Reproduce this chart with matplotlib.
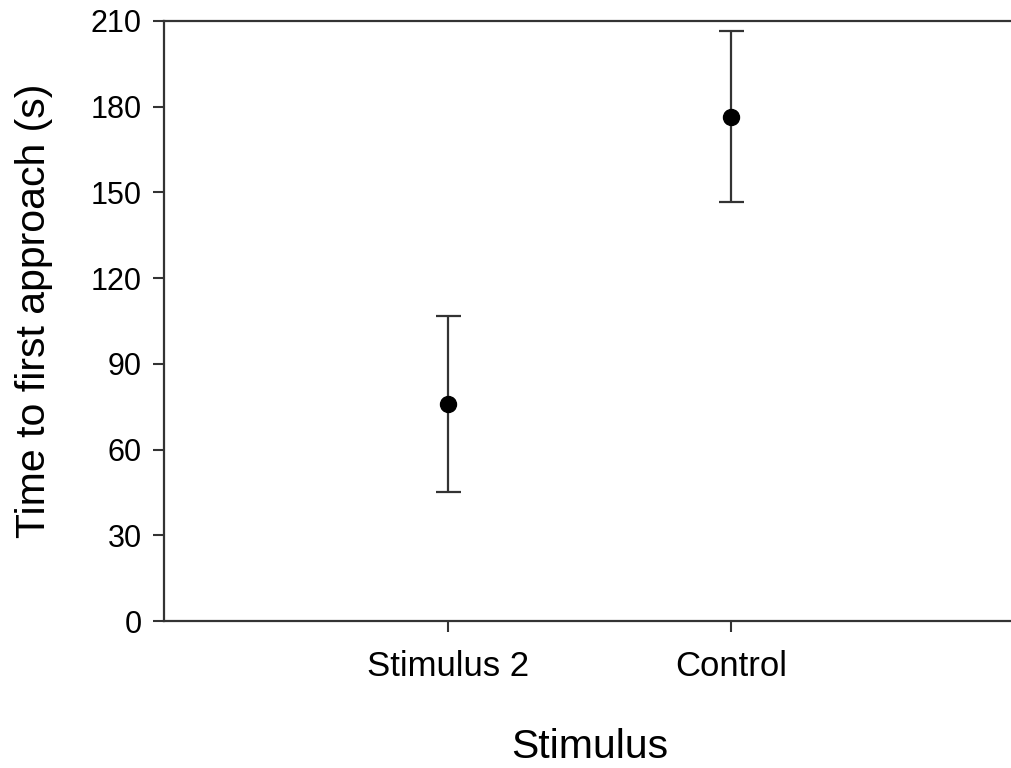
import numpy as np
import matplotlib.pyplot as plt

plt.rcParams['font.family'] = ['Liberation Sans', 'DejaVu Sans']

# Dados
grupos = ['Stimulus 2', 'Control']
media = np.array([76.0, 176.5])
erro = np.array([30.8, 30.0])

fig = plt.figure(figsize=(10.11, 7.68), dpi=100)
ax = fig.add_axes([0.1622, 0.1914, 0.8417, 0.7813])

x = np.arange(1, len(grupos) + 1)
ax.errorbar(x, media, yerr=erro, fmt='o', color='black', ecolor='#333333',
            elinewidth=1.6, capsize=9, capthick=1.6, markersize=11.5)

ax.set_xlim(0, 3)
ax.set_ylim(0, 210)
ax.set_yticks(np.arange(0, 211, 30))
ax.set_xticks(x)
ax.set_xticklabels(grupos)

for s in ['left', 'bottom', 'top']:
    ax.spines[s].set_linewidth(1.6)
    ax.spines[s].set_color('#333333')
ax.spines['right'].set_visible(False)

ax.tick_params(axis='both', direction='out', length=8, width=1.5, color='#333333')
ax.tick_params(axis='y', labelsize=22, pad=8)
ax.tick_params(axis='x', labelsize=25, pad=13)

ax.set_xlabel('Stimulus', fontsize=29.5, labelpad=32)
ax.set_ylabel('Time to first approach (s)', fontsize=29.5)
ax.yaxis.set_label_coords(-0.131, 0.517)

plt.savefig('out.png', dpi=100)
